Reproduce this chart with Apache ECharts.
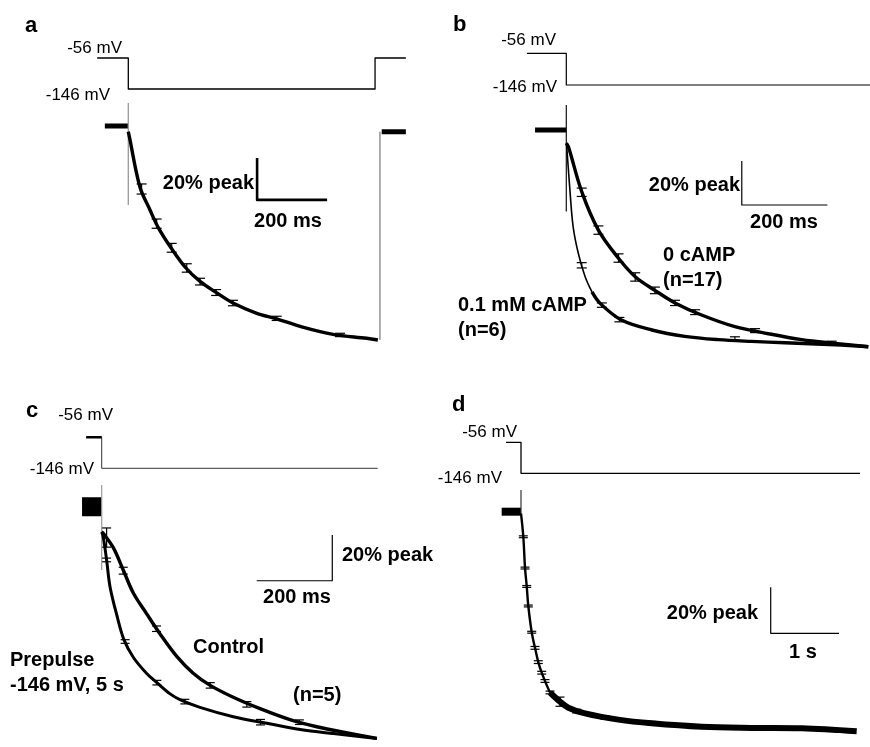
<!DOCTYPE html>
<html lang="en">
<head>
<meta charset="UTF-8">
<title>Tail currents</title>
<script src="https://cdn.jsdelivr.net/npm/echarts@6/dist/echarts.min.js"></script>
<style>html,body{margin:0;background:#fff;}</style>
</head>
<body>
<div id="main" style="width:870px;height:747px;"></div>
<script>
// time in ms from the step onset, current in % of peak (0 = holding level)

// panel a
var aVoltT = [-89, 0, 0, 705, 705, 793];
var aVoltMV = [-56, -56, -146, -146, -56, -56];
var aPreT = [-67, 0], aPreI = [0, 0];
var aTraceT = [0, 3, 33, 62, 86, 122, 164, 205, 253, 299, 367, 424, 491, 585, 681, 713];
var aTraceI = [-2.7, -5.1, -28.9, -40, -48.5, -58, -67.5, -74, -79.5, -84.3, -89.2, -91.8, -95.4, -99.2, -101.1, -101.9];
var aPostT = [724, 793], aPostI = [-2.7, -2.7];
var aErrT = [38, 81, 124, 167, 205, 251, 299, 424, 605];
var aErrI = [-30, -46.5, -58, -67.6, -74.1, -79.3, -84.3, -91.6, -99.5];
var aErrS = [2.4, 2.2, 2.1, 2.0, 1.6, 1.4, 1.3, 1.0, 0.8];

// panel b
var bVoltT = [-92, 0, 0, 710];
var bVoltMV = [-56, -56, -146, -146];
var bPreT = [-73, 0], bPreI = [0, 0];
var bSlowT = [0, 5, 36, 75, 122, 161, 207, 254, 316, 394, 472, 550, 628, 706];
var bSlowI = [-6, -7.6, -28, -45.5, -58.3, -66.7, -72.9, -78.6, -84.1, -89.4, -92.6, -95.3, -97, -98.5];
var bFastT = [0, 1, 9, 16, 28, 44, 60, 79, 129, 200, 277, 355, 433, 511, 628, 705];
var bFastI = [-6, -7.6, -28.8, -44, -56, -66.7, -73.6, -78.8, -86.4, -90.9, -93.8, -95.3, -96.1, -96.7, -97.6, -98.5];
var bSlowErrT = [36, 75, 122, 161, 207, 254, 301, 441, 620];
var bSlowErrI = [-28.3, -45.5, -58.2, -66.8, -72.9, -78.6, -82.8, -91.2, -96.8];
var bSlowErrS = [1.9, 1.9, 1.9, 1.9, 1.5, 1.2, 1.1, 0.9, 0.8];
var bFastErrT = [36, 83, 124, 394];
var bFastErrI = [-61.5, -79.6, -86.2, -94.8];
var bFastErrS = [1.2, 1.0, 1.0, 0.8];

// panel c
var cVoltT = [-41, 0, 0, 730];
var cVoltMV = [-56, -56, -146, -146];
var cPreT = [-52, 0], cPreI = [0, 0];
var cCtrlT = [0, 4, 31, 57, 84, 119, 154, 198, 242, 287, 348, 419, 498, 569, 657, 728];
var cCtrlI = [-11, -11.6, -18, -27.7, -37.9, -46.9, -55.6, -65.4, -72.9, -78.2, -83.4, -88.4, -93.2, -96.3, -99.2, -101.4];
var cPrepT = [0, 4, 13, 22, 40, 59, 84, 119, 146, 181, 207, 260, 348, 437, 525, 613, 728];
var cPrepI = [-11, -13.1, -23.3, -35, -47.5, -58.3, -66, -73, -77, -81.9, -84.4, -87.8, -91.9, -94.8, -97.5, -99.3, -101.4];
var cCtrlErrT = [13, 57, 145, 287, 384, 523];
var cCtrlErrI = [-13.5, -28, -53.4, -78.2, -86.5, -94.3];
var cCtrlErrS = [4.2, 1.5, 1.2, 1.2, 1.2, 1.0];
var cPrepErrT = [13, 62, 146, 220, 420];
var cPrepErrI = [-23.3, -59, -77, -85.3, -94.3];
var cPrepErrS = [0.8, 0.8, 1, 1, 1.2];

// panel d
var dVoltT = [-220, 0, 0, 4963];
var dVoltMV = [-56, -56, -146, -146];
var dPreT = [-283, 0], dPreI = [0, 0];
var dTraceT = [0, 34, 59, 84, 107, 157, 205, 253, 303, 376, 425, 571, 693, 937, 1425, 1914, 2646, 3378, 4110, 4915];
var dTraceI = [-0.7, -10.9, -24.5, -32.5, -41, -52.4, -59.2, -65.4, -70, -75.4, -78.6, -82.6, -85.2, -87.7, -90.4, -92, -93.5, -94, -94.2, -95.5];
var dErrT = [34, 59, 84, 107, 157, 205, 253, 303, 351, 425, 571, 815, 1230, 1914, 2646, 4645];
var dErrI = [-10.9, -24.5, -32.5, -41, -52.4, -59.2, -65.4, -70, -73.6, -78.6, -82.6, -86.7, -89.5, -92, -93.5, -95.2];
var dErrS = [0.4, 0.4, 0.4, 0.4, 0.4, 0.6, 0.6, 0.6, 0.6, 0.6, 2, 0.8, 0.8, 0.8, 0.6, 0.6];

// pixel calibration of each panel: step onset x, holding level y, px per ms, px per %, y of -56 / -146 mV
var panels = [
  { onset: 128.3, base: 126, msPx: 0.35, pctPx: 2.1, y56: 58, y146: 89, box: [85, 30, 415, 365] },
  { onset: 566.3, base: 130, msPx: 0.428, pctPx: 2.2, y56: 53.3, y146: 85, box: [515, 30, 870, 365] },
  { onset: 101.7, base: 506.7, msPx: 0.378, pctPx: 2.285, y56: 437.3, y146: 468.3, box: [65, 420, 385, 747] },
  { onset: 521, base: 511.7, msPx: 0.0683, pctPx: 2.3, y56: 442.3, y146: 473.3, box: [490, 425, 866, 747] }
];

var grids = [], xAxes = [], yAxes = [];
panels.forEach(function (p, k) {
  var l = p.box[0], t = p.box[1], r = p.box[2], b = p.box[3];
  grids.push({ left: l, top: t, width: r - l, height: b - t });
  xAxes.push({ type: 'value', gridIndex: k, show: false, min: (l - p.onset) / p.msPx, max: (r - p.onset) / p.msPx });
  yAxes.push({ type: 'value', gridIndex: k, show: false, min: -(b - p.base) / p.pctPx, max: (p.base - t) / p.pctPx });
  var mvPx = (p.y146 - p.y56) / 90;
  yAxes.push({ type: 'value', gridIndex: k, show: false, min: -56 - (b - p.y56) / mvPx, max: -56 + (p.y56 - t) / mvPx });
});

function zip(ts, vs) {
  return ts.map(function (t, i) { return [t, vs[i]]; });
}

function line(k, data, width, opts) {
  opts = opts || {};
  return {
    type: 'line', xAxisIndex: k, yAxisIndex: opts.mv ? 2 * k + 1 : 2 * k,
    data: data, symbol: 'none', showSymbol: false,
    smooth: opts.smooth ? 0.35 : false,
    lineStyle: { color: opts.color || '#000', width: width, cap: 'butt', join: 'round' },
    silent: true, animation: false, z: opts.z || 2
  };
}

function errBars(k, ts, ms, ss, cap) {
  return {
    type: 'custom', xAxisIndex: k, yAxisIndex: 2 * k, silent: true, animation: false, z: 4,
    data: ts.map(function (t, i) { return [t, ms[i], ss[i]]; }),
    encode: { x: 0, y: 1 },
    renderItem: function (params, api) {
      var t = api.value(0), m = api.value(1), s = api.value(2);
      var hi = api.coord([t, m + s]), lo = api.coord([t, m - s]);
      var st = { stroke: '#000', lineWidth: 1.2 };
      return {
        type: 'group', children: [
          { type: 'line', shape: { x1: hi[0], y1: hi[1], x2: lo[0], y2: lo[1] }, style: st },
          { type: 'line', shape: { x1: hi[0] - cap, y1: hi[1], x2: hi[0] + cap, y2: hi[1] }, style: st },
          { type: 'line', shape: { x1: lo[0] - cap, y1: lo[1], x2: lo[0] + cap, y2: lo[1] }, style: st }
        ]
      };
    }
  };
}

// scale bar: vertical 20 % down from (t, i), then horizontal by dt
function scaleBar(k, t, i, dt, di, width) {
  return line(k, [[t, i], [t, i - di], [t + dt, i - di]], width);
}

var series = [
  // a
  line(0, zip(aVoltT, aVoltMV), 1.3, { mv: true }),
  line(0, zip(aPreT, aPreI), 5),
  line(0, [[0, 11], [0, -37.6]], 1.3, { color: '#999' }),
  line(0, zip(aTraceT, aTraceI), 3.4, { smooth: true }),
  line(0, [[719, aTraceI[aTraceI.length - 1]], [719, aPostI[0]]], 1.2, { color: '#777' }),
  line(0, zip(aPostT, aPostI), 5),
  errBars(0, aErrT, aErrI, aErrS, 5),
  scaleBar(0, 368, -15.2, 200, 20, 2.6),
  // b
  line(1, zip(bVoltT, bVoltMV), 1.2, { mv: true }),
  line(1, zip(bPreT, bPreI), 5),
  line(1, [[0, 11.4], [0, -37.1]], 1.2, { color: '#111' }),
  line(1, zip(bSlowT, bSlowI), 3.4, { smooth: true }),
  line(1, zip(bFastT.slice(0, 7), bFastI.slice(0, 7)), 1.6, { smooth: true }),
  line(1, zip(bFastT.slice(6), bFastI.slice(6)), 3.4, { smooth: true }),
  errBars(1, bSlowErrT, bSlowErrI, bSlowErrS, 5),
  errBars(1, bFastErrT, bFastErrI, bFastErrS, 5),
  scaleBar(1, 410, -14.1, 200, 20, 1.2),
  // c
  line(2, zip(cVoltT, cVoltMV), 1, { mv: true, color: '#333' }),
  line(2, [[cVoltT[0], -56], [0, -56]], 2.5, { mv: true }),
  line(2, zip(cPreT, cPreI), 19),
  line(2, [[0, 9.5], [0, -27.7]], 1.2, { color: '#999' }),
  line(2, zip(cCtrlT, cCtrlI), 3.4, { smooth: true }),
  line(2, zip(cPrepT, cPrepI), 3, { smooth: true }),
  errBars(2, cCtrlErrT, cCtrlErrI, cCtrlErrS, 4.5),
  errBars(2, cPrepErrT, cPrepErrI, cPrepErrS, 4.5),
  scaleBar(2, 610, -12.4, -200, 20, 1.2),
  // d
  line(3, zip(dVoltT, dVoltMV), 1.3, { mv: true }),
  line(3, zip(dPreT, dPreI), 8),
  line(3, [[0, 9.4], [0, -0.7]], 1.2, { color: '#333' }),
  line(3, zip(dTraceT.slice(0, 11), dTraceI.slice(0, 11)), 2.4, { smooth: true }),
  line(3, zip(dTraceT.slice(10), dTraceI.slice(10)), 6, { smooth: true }),
  errBars(3, dErrT, dErrI, dErrS, 4.5),
  scaleBar(3, 3656, -32.9, 1000, 20, 1.2)
];

var FONT = '"Liberation Sans", Arial, Helvetica, sans-serif';
// [text, x, y, align, bold, size]
var labels = [
  ['a', 25, 26, 'left', true, 22],
  ['-56 mV', 122, 48, 'right', false, 17],
  ['-146 mV', 110, 95, 'right', false, 17],
  ['20% peak', 254, 183, 'right', true, 20],
  ['200 ms', 288, 221, 'center', true, 20],
  ['b', 453, 25, 'left', true, 22],
  ['-56 mV', 556, 40, 'right', false, 17],
  ['-146 mV', 557, 87, 'right', false, 17],
  ['20% peak', 740, 185, 'right', true, 20],
  ['200 ms', 784, 222, 'center', true, 20],
  ['0 cAMP', 663, 255, 'left', true, 20],
  ['(n=17)', 663, 280, 'left', true, 20],
  ['0.1 mM cAMP', 458, 305, 'left', true, 20],
  ['(n=6)', 458, 330, 'left', true, 20],
  ['c', 26, 411, 'left', true, 22],
  ['-56 mV', 113, 415, 'right', false, 17],
  ['-146 mV', 94, 469, 'right', false, 17],
  ['20% peak', 342, 555, 'left', true, 20],
  ['200 ms', 297, 597, 'center', true, 20],
  ['Control', 193, 647, 'left', true, 20],
  ['Prepulse', 10, 660, 'left', true, 20],
  ['-146 mV, 5 s', 10, 685, 'left', true, 20],
  ['(n=5)', 293, 695, 'left', true, 20],
  ['d', 452, 405, 'left', true, 22],
  ['-56 mV', 517, 432, 'right', false, 17],
  ['-146 mV', 502, 478, 'right', false, 17],
  ['20% peak', 758, 613, 'right', true, 20],
  ['1 s', 803, 652, 'center', true, 20]
];

var graphic = labels.map(function (L) {
  return {
    type: 'text', x: L[1], y: L[2], silent: true, z: 10,
    style: {
      text: L[0], fill: '#000', align: L[3], verticalAlign: 'middle',
      font: (L[4] ? 'bold ' : '') + L[5] + 'px ' + FONT
    }
  };
});

var chart = echarts.init(document.getElementById('main'));
chart.setOption({
  backgroundColor: '#fff',
  animation: false,
  grid: grids,
  xAxis: xAxes,
  yAxis: yAxes,
  series: series,
  graphic: graphic
});
</script>
</body>
</html>
